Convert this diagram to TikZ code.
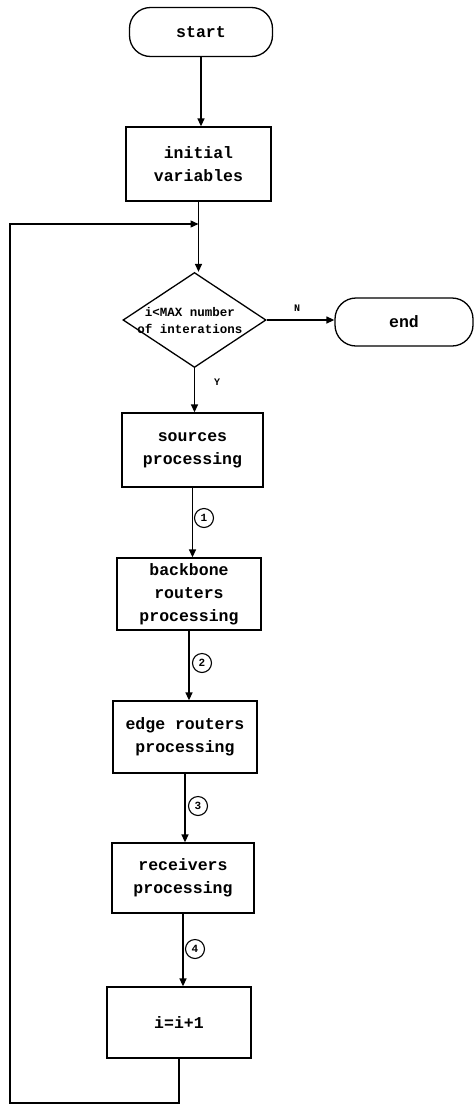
\documentclass[tikz,border=0pt]{standalone}
\usepackage{fontspec}
\setmonofont{Liberation Mono}
\usetikzlibrary{shapes.geometric,arrows.meta}
\begin{document}
\begin{tikzpicture}[x=1pt,y=-1pt,
  line width=1.3pt,
  font=\ttfamily\bfseries\fontsize{16.5}{23}\selectfont,
  arr/.style={-{Triangle[length=8pt,width=7pt]}},
  term/.style={draw,rounded corners=21pt,minimum width=143pt,minimum height=49pt,inner sep=0pt},
  procbox/.style={draw,minimum width=144pt,minimum height=72pt,align=center,inner sep=0pt},
  decide/.style={draw,diamond,minimum width=143pt,minimum height=95pt,inner sep=0pt,aspect=1.5},
  stepnum/.style={draw,circle,line width=1.1pt,minimum size=19pt,inner sep=0pt,font=\ttfamily\bfseries\fontsize{11}{11}\selectfont},
  yn/.style={font=\ttfamily\bfseries\fontsize{10}{10}\selectfont}]
\useasboundingbox (0,0) rectangle (474,1106);

\node[term] (start) at (201,32) {start};
\node[procbox,minimum width=145pt,minimum height=74pt] (init) at (198.5,164) {initial\\variables};
\node[decide] (cond) at (194.5,320) {};
\node[font=\ttfamily\bfseries\fontsize{12.5}{17}\selectfont,align=center] (condtext) at (190,321) {i<MAX number\\of interations};
\node[term,minimum width=138pt,minimum height=48pt] (end) at (404,322) {end};
\node[procbox,minimum width=141pt,minimum height=74pt] (src) at (192.5,450) {sources\\processing};
\node[procbox] (bb) at (189,594) {backbone\\routers\\processing};
\node[procbox] (edge) at (185,737) {edge routers\\processing};
\node[procbox,minimum width=142pt,minimum height=70pt] (recv) at (183,878) {receivers\\processing};
\node[procbox,minimum height=71pt] (incr) at (179,1022.5) {i=i+1};

% yes / no labels
\node[yn] (nlab) at (297,308) {N};
\node[yn] (ylab) at (217,382) {Y};

% step markers
\node[stepnum] (s1) at (204,518) {1};
\node[stepnum] (s2) at (202,663) {2};
\node[stepnum] (s3) at (198,806) {3};
\node[stepnum] (s4) at (195,949) {4};

% main flow
\draw[arr] (start.south) -- (start.south |- init.north);
\draw[arr] (init.south) -- (init.south |- cond.north);
\draw[arr] (cond.east) -- (cond.east -| end.west);
\draw[arr] (cond.south) -- (cond.south |- src.north);
\draw[arr] (src.south) -- (src.south |- bb.north);
\draw[arr] (bb.south) -- (bb.south |- edge.north);
\draw[arr] (edge.south) -- (edge.south |- recv.north);
\draw[arr] (recv.south) -- (recv.south |- incr.north);

% loop back to the condition
\coordinate (lbr) at (179,1103);
\coordinate (lbl) at (10,1103);
\coordinate (ltl) at (10,224);
\coordinate (join) at (198.5,224);
\draw[arr] (incr.south) -- (lbr) -- (lbl) -- (ltl) -- (join);
\end{tikzpicture}
\end{document}
